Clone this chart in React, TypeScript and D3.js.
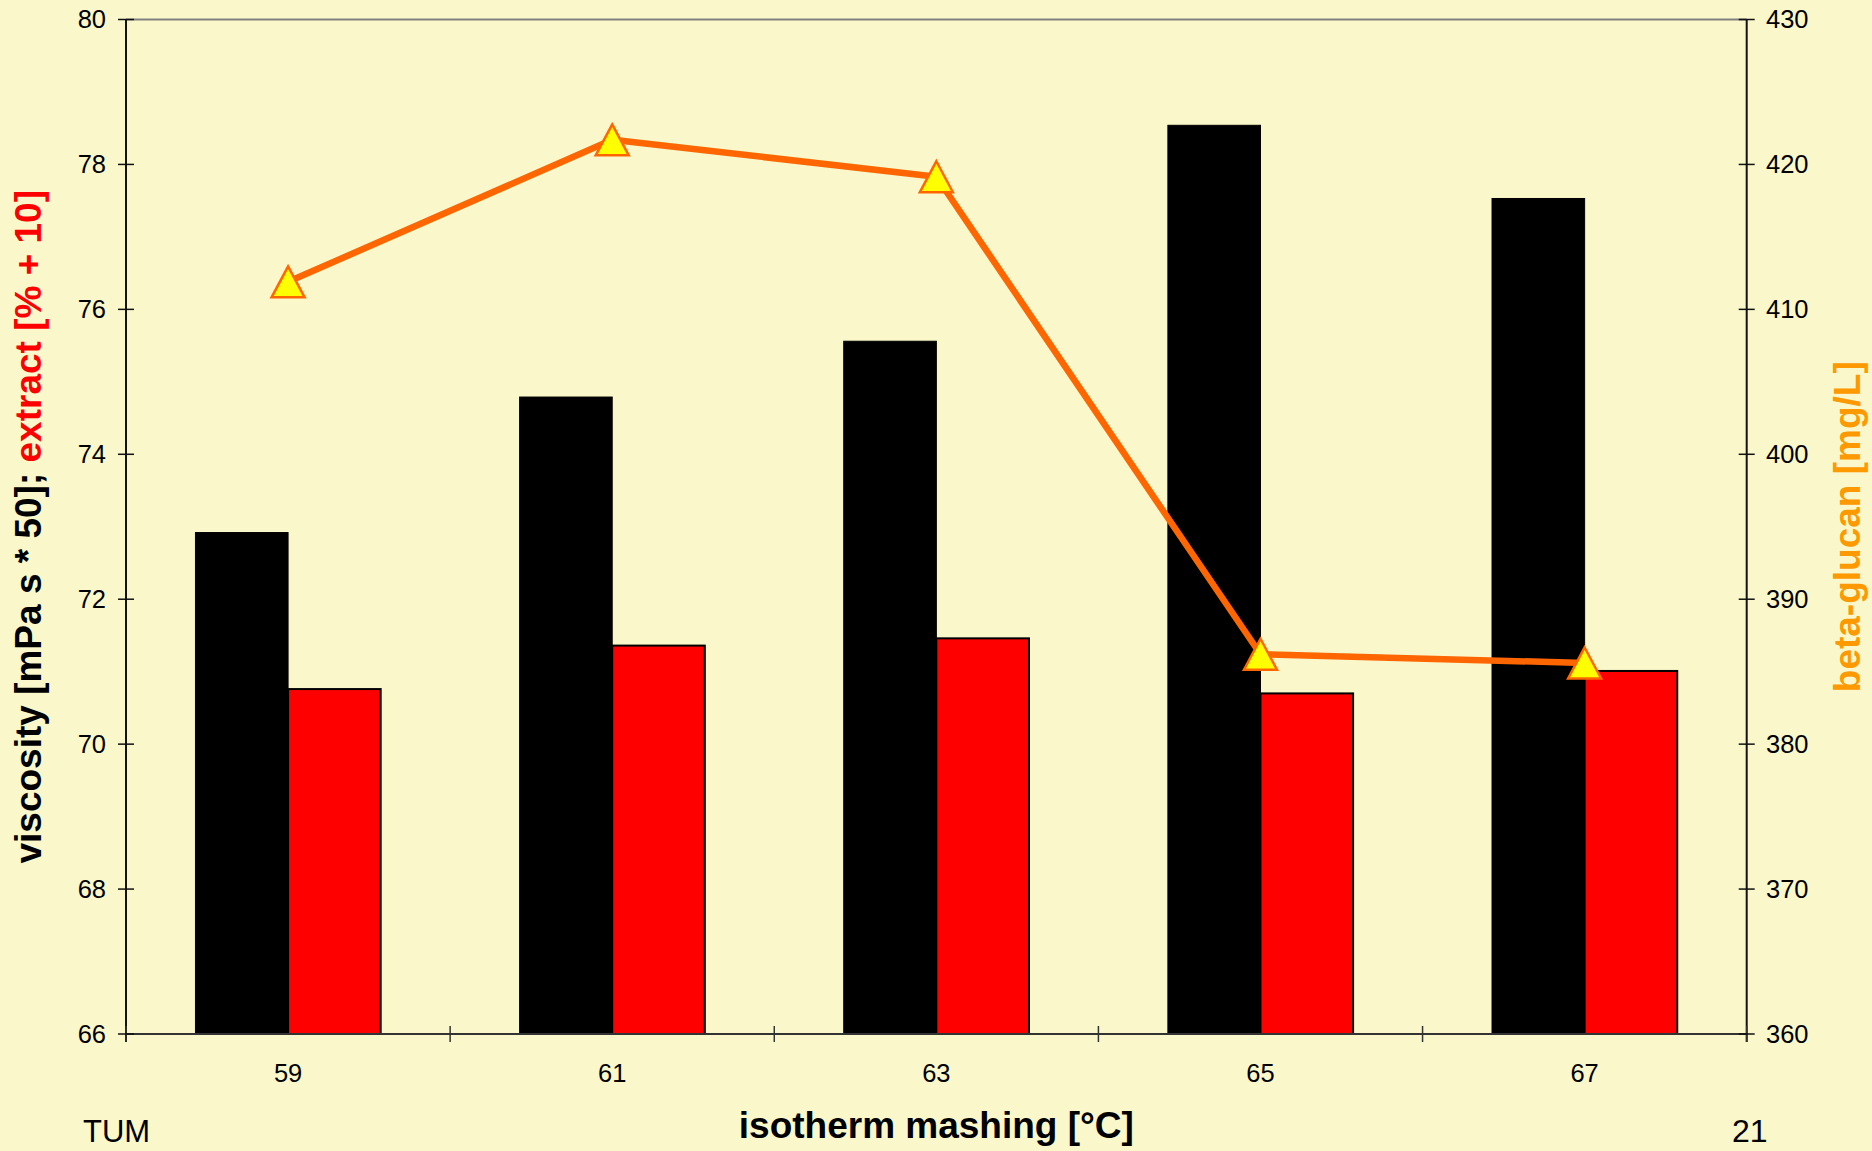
import React from "react";
import * as d3 from "d3";

// Isotherm mashing temperatures (°C)
const temperatures = ["59", "61", "63", "65", "67"];
// Viscosity [mPa s * 50]
const viscosity = [72.92, 74.79, 75.56, 78.54, 77.53];
// Extract [% + 10]
const extract = [70.76, 71.36, 71.46, 70.7, 71.01];
// Beta-glucan [mg/L]
const betaGlucan = [411.9, 421.7, 419.15, 386.2, 385.6];

const leftTicks = [66, 68, 70, 72, 74, 76, 78, 80];
const rightTicks = [360, 370, 380, 390, 400, 410, 420, 430];

const W = 1872;
const H = 1151;
const plot = { left: 126, right: 1746.7, top: 19.5, bottom: 1034 };

const BG = "#FAF8CA";
const FONT = "'Liberation Sans', Arial, Helvetica, sans-serif";

export default function App() {
  const x = d3
    .scaleBand<string>()
    .domain(temperatures)
    .range([plot.left, plot.right])
    .paddingInner(0)
    .paddingOuter(0);

  const series = d3
    .scaleBand<string>()
    .domain(["viscosity", "extract"])
    .range([0, x.bandwidth()])
    .paddingInner(0)
    .paddingOuter(0.75);

  const yLeft = d3.scaleLinear().domain([66, 80]).range([plot.bottom, plot.top]);
  const yRight = d3.scaleLinear().domain([360, 430]).range([plot.bottom, plot.top]);

  const line = d3
    .line<number>()
    .x((_, i) => (x(temperatures[i]) as number) + x.bandwidth() / 2)
    .y((d) => yRight(d));

  const boundaries = d3.range(temperatures.length + 1).map(
    (i) => plot.left + i * x.step()
  );

  const tri = (cx: number, cy: number) => {
    const hw = 16.5;
    const hh = 15.5;
    return `M${cx},${cy - hh}L${cx + hw},${cy + hh}L${cx - hw},${cy + hh}Z`;
  };

  const midY = (plot.top + plot.bottom) / 2;
  const midX = (plot.left + plot.right) / 2;

  return (
    <svg
      width={W}
      height={H}
      style={{ position: "absolute", left: 0, top: 0, display: "block" }}
      fontFamily={FONT}
    >
      <rect x={0} y={0} width={W} height={H} fill={BG} />

      {/* plot frame top */}
      <line
        x1={plot.left}
        x2={plot.right}
        y1={plot.top}
        y2={plot.top}
        stroke="#808080"
        strokeWidth={2}
      />

      {/* bars */}
      {temperatures.map((t, i) => {
        const x0 = x(t) as number;
        const bw = series.bandwidth();
        const xv = x0 + (series("viscosity") as number);
        const xe = x0 + (series("extract") as number);
        return (
          <g key={t}>
            <rect
              x={xv}
              y={yLeft(viscosity[i])}
              width={bw}
              height={plot.bottom - yLeft(viscosity[i])}
              fill="#000000"
              stroke="#000000"
              strokeWidth={1}
            />
            <rect
              x={xe}
              y={yLeft(extract[i])}
              width={bw}
              height={plot.bottom - yLeft(extract[i])}
              fill="#FF0000"
              stroke="#000000"
              strokeWidth={2}
            />
          </g>
        );
      })}

      {/* axes */}
      <line
        x1={plot.left}
        x2={plot.right}
        y1={plot.bottom}
        y2={plot.bottom}
        stroke="#333333"
        strokeWidth={2}
      />
      <line
        x1={plot.left}
        x2={plot.left}
        y1={plot.top}
        y2={plot.bottom + 8}
        stroke="#111111"
        strokeWidth={2}
      />
      <line
        x1={plot.right}
        x2={plot.right}
        y1={plot.top}
        y2={plot.bottom + 8}
        stroke="#111111"
        strokeWidth={2}
      />

      {boundaries.map((bx, i) => (
        <line
          key={"bt" + i}
          x1={bx}
          x2={bx}
          y1={plot.bottom - 8}
          y2={plot.bottom + 8}
          stroke="#333333"
          strokeWidth={1.5}
        />
      ))}

      {leftTicks.map((v) => (
        <g key={"l" + v}>
          <line
            x1={plot.left - 8}
            x2={plot.left + 8}
            y1={yLeft(v)}
            y2={yLeft(v)}
            stroke="#111111"
            strokeWidth={1.5}
          />
          <text
            x={106}
            y={yLeft(v)}
            dy="0.35em"
            textAnchor="end"
            fontSize={25.5}
            fill="#000"
          >
            {v}
          </text>
        </g>
      ))}

      {rightTicks.map((v) => (
        <g key={"r" + v}>
          <line
            x1={plot.right - 8}
            x2={plot.right + 8}
            y1={yRight(v)}
            y2={yRight(v)}
            stroke="#111111"
            strokeWidth={1.5}
          />
          <text
            x={1766}
            y={yRight(v)}
            dy="0.35em"
            textAnchor="start"
            fontSize={25.5}
            fill="#000"
          >
            {v}
          </text>
        </g>
      ))}

      {temperatures.map((t) => (
        <text
          key={"x" + t}
          x={(x(t) as number) + x.bandwidth() / 2}
          y={1081.5}
          textAnchor="middle"
          fontSize={25.5}
          fill="#000"
        >
          {t}
        </text>
      ))}

      {/* beta-glucan line */}
      <path
        d={line(betaGlucan) as string}
        fill="none"
        stroke="#FF6600"
        strokeWidth={6.5}
        strokeLinejoin="round"
      />
      {betaGlucan.map((v, i) => (
        <path
          key={"m" + i}
          d={tri((x(temperatures[i]) as number) + x.bandwidth() / 2, yRight(v))}
          fill="#FFFF00"
          stroke="#FF6600"
          strokeWidth={2.5}
          strokeLinejoin="miter"
        />
      ))}

      {/* titles */}
      <text
        x={midX}
        y={1138}
        textAnchor="middle"
        fontSize={37}
        fontWeight="bold"
        fill="#000"
      >
        isotherm mashing [°C]
      </text>

      <text
        transform={`translate(41,${midY}) rotate(-90)`}
        textAnchor="middle"
        fontSize={37}
        fontWeight="bold"
      >
        <tspan fill="#000">viscosity [mPa s * 50]; </tspan>
        <tspan fill="#FF0000">extract [% + 10]</tspan>
      </text>

      <text
        transform={`translate(1860,${midY}) rotate(-90)`}
        textAnchor="middle"
        fontSize={37}
        fontWeight="bold"
        fill="#FF9900"
      >
        beta-glucan [mg/L]
      </text>

      <text x={83} y={1142} fontSize={31} fill="#000">
        TUM
      </text>
      <text x={1732} y={1142} fontSize={32} fill="#000">
        21
      </text>
    </svg>
  );
}
